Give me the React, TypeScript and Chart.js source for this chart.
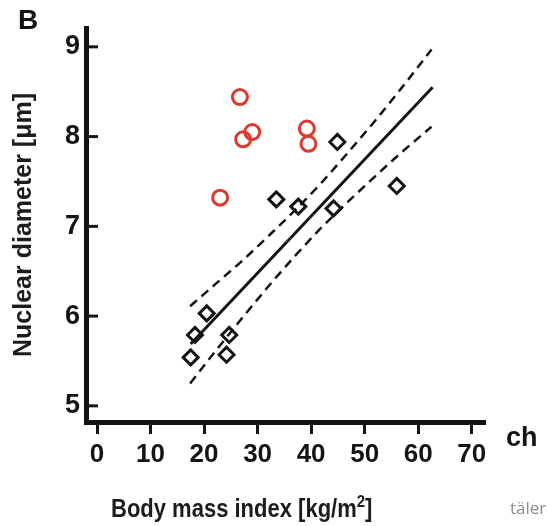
import { useEffect, useRef } from "react";
import { Chart, registerables } from "chart.js";

Chart.register(...registerables);

// Red circles (excluded group)
const redX = [26.7, 27.3, 29.0, 23.0, 39.2, 39.5];
const redY = [8.44, 7.97, 8.05, 7.32, 8.09, 7.92];
// Black diamonds
const blackX = [44.9, 56.0, 33.5, 37.6, 44.2, 20.5, 18.3, 17.5, 24.7, 24.2];
const blackY = [7.94, 7.45, 7.3, 7.22, 7.2, 6.03, 5.79, 5.54, 5.79, 5.57];
// Regression line
const fitX = [17.5, 62.7];
const fitY = [5.69, 8.55];
// Confidence band (dashed)
const bandX = [17.4, 22, 27, 32, 37, 42, 47, 52, 57, 62.5];
const bandUpper = [6.11, 6.35, 6.61, 6.89, 7.18, 7.49, 7.83, 8.18, 8.55, 8.97];
const bandLower = [5.25, 5.6, 5.97, 6.33, 6.67, 6.99, 7.28, 7.56, 7.83, 8.11];
// Ticks
const xTicks = [0, 10, 20, 30, 40, 50, 60, 70];
const yTicks = [5, 6, 7, 8, 9];

const FONT = "'Liberation Sans', Arial, Helvetica, sans-serif";
const INK = "#141414";

const zip = (xs: number[], ys: number[]) => xs.map((x, i) => ({ x, y: ys[i] }));

const inwardTicks = {
  id: "inwardTicks",
  afterDatasetsDraw(chart: any) {
    const ys = chart.scales.y;
    const ctx = chart.ctx;
    const left = chart.chartArea.left;
    ctx.save();
    ctx.strokeStyle = INK;
    ctx.lineWidth = 3;
    yTicks.forEach((v) => {
      const py = ys.getPixelForValue(v);
      ctx.beginPath();
      ctx.moveTo(left, py);
      ctx.lineTo(left + 12, py);
      ctx.stroke();
    });
    ctx.restore();
  },
};

export default function App() {
  const ref = useRef<HTMLCanvasElement | null>(null);

  useEffect(() => {
    if (!ref.current) return;
    const chart = new Chart(ref.current, {
      type: "scatter",
      data: {
        datasets: [
          {
            label: "Red",
            data: zip(redX, redY),
            pointStyle: "circle",
            pointRadius: 7.5,
            borderWidth: 3,
            borderColor: "#dc3a30",
            backgroundColor: "rgba(255,255,255,0)",
          },
          {
            label: "Black",
            data: zip(blackX, blackY),
            pointStyle: "rectRot",
            pointRadius: 7.5,
            borderWidth: 3,
            borderColor: INK,
            backgroundColor: "rgba(255,255,255,0)",
          },
          {
            label: "Fit",
            data: zip(fitX, fitY),
            showLine: true,
            borderColor: INK,
            borderWidth: 3,
            pointRadius: 0,
          },
          {
            label: "Upper",
            data: zip(bandX, bandUpper),
            showLine: true,
            borderColor: INK,
            borderWidth: 2.5,
            borderDash: [9, 6],
            pointRadius: 0,
            cubicInterpolationMode: "monotone",
          },
          {
            label: "Lower",
            data: zip(bandX, bandLower),
            showLine: true,
            borderColor: INK,
            borderWidth: 2.5,
            borderDash: [9, 6],
            pointRadius: 0,
            cubicInterpolationMode: "monotone",
          },
        ] as any,
      },
      options: {
        responsive: false,
        animation: false,
        devicePixelRatio: 1,
        layout: { padding: { left: 0, top: 28, right: 63, bottom: 0 } },
        plugins: { legend: { display: false }, tooltip: { enabled: false } },
        scales: {
          x: {
            type: "linear",
            min: -2.06,
            max: 72.3,
            afterBuildTicks: (s: any) => {
              s.ticks = xTicks.map((v) => ({ value: v }));
            },
            afterFit: (s: any) => {
              s.height = 104;
            },
            grid: {
              display: true,
              drawOnChartArea: false,
              drawTicks: true,
              tickLength: 12,
              lineWidth: 3,
              color: INK,
            },
            border: { display: true, width: 5, color: INK },
            ticks: {
              color: INK,
              font: { family: FONT, size: 26, weight: "bold" },
              padding: 5,
              maxRotation: 0,
              autoSkip: false,
            },
            title: { display: false },
          },
          y: {
            type: "linear",
            min: 4.82,
            max: 9.21,
            afterBuildTicks: (s: any) => {
              s.ticks = yTicks.map((v) => ({ value: v }));
            },
            afterFit: (s: any) => {
              s.width = 86;
            },
            grid: {
              display: true,
              drawOnChartArea: false,
              drawTicks: false,
              color: INK,
              lineWidth: 3,
            },
            border: { display: true, width: 5, color: INK },
            ticks: {
              color: INK,
              font: { family: FONT, size: 27, weight: "bold" },
              padding: 6,
              autoSkip: false,
            },
            title: {
              display: true,
              text: "Nuclear diameter [μm]",
              color: "#1c1c1c",
              font: { family: FONT, size: 25, weight: "bold" },
              padding: { top: 9, bottom: 0 },
            },
          },
        },
      } as any,
      plugins: [inwardTicks],
    });
    return () => chart.destroy();
  }, []);

  return (
    <div
      style={{
        position: "fixed",
        left: 0,
        top: 0,
        width: 547,
        height: 526,
        background: "#ffffff",
        overflow: "hidden",
      }}
    >
      <canvas ref={ref} width={547} height={526} style={{ display: "block" }} />
      <div
        style={{
          position: "absolute",
          left: 18,
          top: 6,
          fontFamily: FONT,
          fontWeight: "bold",
          fontSize: 28,
          lineHeight: "28px",
          color: INK,
        }}
      >
        B
      </div>
      <div
        style={{
          position: "absolute",
          left: 111,
          top: 496,
          fontFamily: FONT,
          fontWeight: "bold",
          fontSize: 25,
          lineHeight: "25px",
          color: "#1c1c1c",
          whiteSpace: "nowrap",
          transform: "scaleX(0.88)",
          transformOrigin: "0 0",
        }}
      >
        Body mass index [kg/m
        <sup style={{ fontSize: 17, lineHeight: 0, verticalAlign: 10 }}>2</sup>]
      </div>
      <div
        style={{
          position: "absolute",
          left: 506,
          top: 424,
          fontFamily: FONT,
          fontWeight: "bold",
          fontSize: 27,
          lineHeight: "27px",
          color: INK,
        }}
      >
        ch
      </div>
      <div
        style={{
          position: "absolute",
          left: 510,
          top: 499,
          fontFamily: "'Open Sans', sans-serif",
          fontSize: 17,
          lineHeight: "17px",
          color: "#8c8c8c",
          whiteSpace: "nowrap",
        }}
      >
        täler
      </div>
    </div>
  );
}
